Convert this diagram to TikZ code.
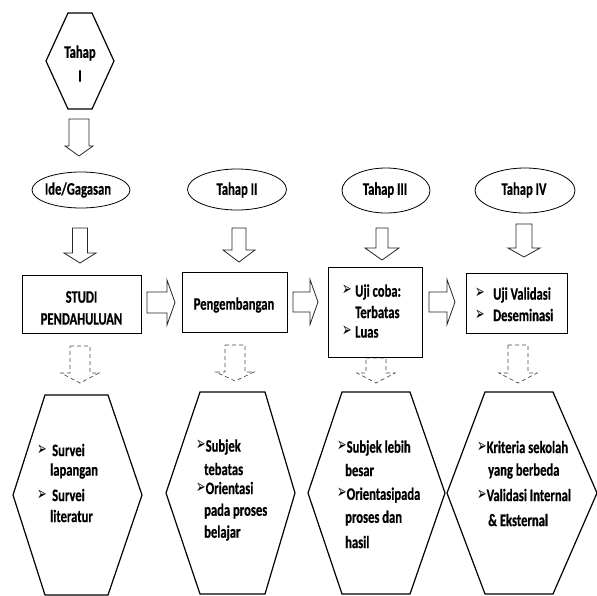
\documentclass[tikz,border=0pt]{standalone}
\usepackage{fontspec}
\usepackage{graphicx}
\usetikzlibrary{shapes.geometric}
\setmainfont[FakeStretch=0.72, BoldFeatures={FakeBold=0.6}]{Carlito}
\newfontfamily\symfont{DejaVu Sans}
\newcommand{\blt}{\makebox[8pt][l]{\raisebox{0.8pt}{\resizebox*{9.5pt}{10.5pt}{\symfont ➢}}}}
\newcommand{\dArrow}[7][]{%
  \draw[#1] (#2-#6,#3) -- (#2+#6,#3) -- (#2+#6,#4) -- (#2+#7,#4) -- (#2,#5) -- (#2-#7,#4) -- (#2-#6,#4) -- cycle;}
\newcommand{\rArrow}[7][]{%
  \draw[#1] (#3,#2-#6) -- (#4,#2-#6) -- (#4,#2-#7) -- (#5,#2) -- (#4,#2+#7) -- (#4,#2+#6) -- (#3,#2+#6) -- cycle;}
\begin{document}
\begin{tikzpicture}[x=1pt,y=-1pt,
  txt/.style={font=\fontsize{17.5}{20}\selectfont\bfseries, inner sep=0pt},
  ell/.style={draw, ellipse, line width=0.8pt, inner sep=0pt},
  boxn/.style={draw, line width=0.9pt},
  blk/.style={line width=0.8pt, draw=black!85},
  dsh/.style={line width=0.7pt, draw=black!70, dash pattern=on 4pt off 3pt},
  hexl/.style={line width=1.2pt, line join=miter}]
\clip (0,0) rectangle (597,595);
\fill[white] (0,0) rectangle (597,595);

% top hexagon
\draw[hexl] (68,13) -- (92,13) -- (114,61) -- (92,109) -- (68,109) -- (46,61) -- cycle;
\node[txt] (t1a) at (80,53) {Tahap};
\node[txt] (t1b) at (80,76) {I};
\dArrow[blk]{79}{119}{146}{156}{10}{14}

% ellipses
\node[ell, minimum width=98pt, minimum height=36pt] (e1) at (81,190) {};
\node[txt] (e1t) at (78,190) {Ide/Gagasan};
\node[ell, minimum width=99pt, minimum height=41pt] (e2) at (237,189.5) {};
\node[txt] (e2t) at (237,190) {Tahap II};
\node[ell, minimum width=88pt, minimum height=45pt] (e3) at (386,190.5) {};
\node[txt] (e3t) at (385,190) {Tahap III};
\node[ell, minimum width=100pt, minimum height=45pt] (e4) at (525,190.5) {};
\node[txt] (e4t) at (524,190) {Tahap IV};

% down arrows from ellipses
\dArrow[blk]{80}{228}{253}{263}{7.5}{16}
\dArrow[blk]{239}{228}{250}{262}{7}{16}
\dArrow[blk]{382}{228}{248}{260}{6}{17}
\dArrow[blk]{524}{224}{248}{257}{8}{16}

% boxes
\draw[boxn] (22,275) rectangle (141,333);
\node[txt] (b1a) at (81.5,297) {STUDI};
\node[txt] (b1b) at (81.5,319) {PENDAHULUAN};
\draw[boxn] (182,272) rectangle (287,332);
\node[txt] (b2) at (234,305) {Pengembangan};
\draw[boxn] (328,267) rectangle (422,357);
\node[txt, anchor=west] (b3a) at (342,292) {\blt\hspace{5pt}Uji coba:};
\node[txt, anchor=west] (b3b) at (355,312) {Terbatas};
\node[txt, anchor=west] (b3c) at (342,332) {\blt\hspace{5pt}Luas};
\draw[boxn] (466,273) rectangle (567,333);
\node[txt, anchor=west] (b4a) at (475,295) {\blt\hspace{10pt}Uji Validasi};
\node[txt, anchor=west] (b4b) at (475,315) {\blt\hspace{10pt}Deseminasi};

% right arrows
\rArrow[blk]{302.5}{147}{167}{175}{10.5}{22.5}
\rArrow[blk]{302}{293}{310}{318}{10}{22.5}
\rArrow[blk]{302}{429}{447}{455}{10}{22.5}

% dashed arrows
\dArrow[dsh]{80}{346}{373}{383}{10}{19}
\dArrow[dsh]{235}{345}{372}{381}{10}{19}
\dArrow[dsh]{376}{358}{373}{383}{10}{19}
\dArrow[dsh]{518}{345}{373}{383}{10}{19}
\draw[boxn] (328,267) rectangle (422,357);

% bottom hexagons
\draw[hexl] (45,395) -- (108,395) -- (142,495) -- (108,595) -- (45,595) -- (13,495) -- cycle;
\draw[hexl] (200,392) -- (265,392) -- (295,493) -- (265,594) -- (200,594) -- (166,493) -- cycle;
\draw[hexl] (342,392) -- (410,392) -- (445,493) -- (410,594) -- (342,594) -- (308,493) -- cycle;
\draw[hexl] (485,392) -- (553,392) -- (597,493) -- (553,594) -- (485,594) -- (447,493) -- cycle;

% hex texts
\node[txt, anchor=west] (h1a) at (37,450) {\blt\hspace{7pt}Survei};
\node[txt, anchor=west] (h1b) at (50,471) {lapangan};
\node[txt, anchor=west] (h1c) at (37,495) {\blt\hspace{7pt}Survei};
\node[txt, anchor=west] (h1d) at (50,516) {literatur};

\node[txt, anchor=west] (h2a) at (196,447) {\blt\hspace{1.5pt}Subjek};
\node[txt, anchor=west] (h2b) at (204,469) {tebatas};
\node[txt, anchor=west] (h2c) at (196,488) {\blt\hspace{1.5pt}Orientasi};
\node[txt, anchor=west] (h2d) at (204,511) {pada proses};
\node[txt, anchor=west] (h2e) at (204,533) {belajar};

\node[txt, anchor=west] (h3a) at (337,448) {\blt\hspace{1.5pt}Subjek lebih};
\node[txt, anchor=west] (h3b) at (345,470) {besar};
\node[txt, anchor=west] (h3c) at (337,495) {\blt\hspace{1.5pt}Orientasipada};
\node[txt, anchor=west] (h3d) at (345,518) {proses dan};
\node[txt, anchor=west] (h3e) at (345,542) {hasil};

\node[txt, anchor=west] (h4a) at (477,447) {\blt\hspace{1.5pt}Kriteria sekolah};
\node[txt, anchor=west] (h4b) at (488,471) {yang berbeda};
\node[txt, anchor=west] (h4c) at (477,495) {\blt\hspace{1.5pt}Validasi Internal};
\node[txt, anchor=west] (h4d) at (488,520) {\& Eksternal};
\end{tikzpicture}
\end{document}
